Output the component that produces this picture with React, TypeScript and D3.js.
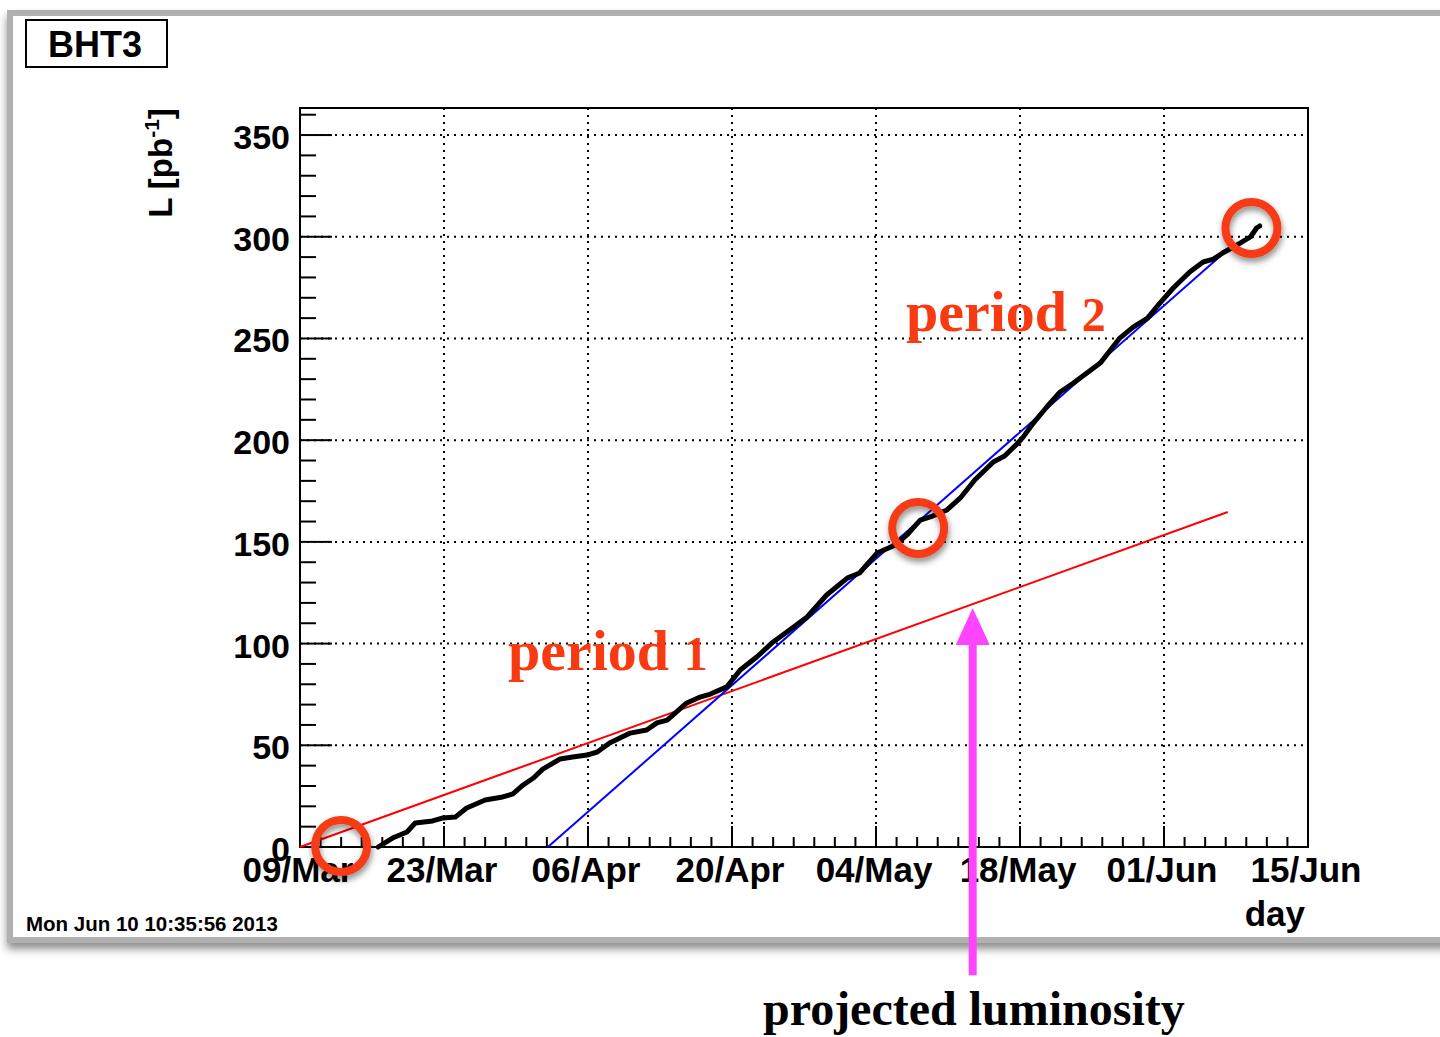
import React from 'react';
import * as d3 from 'd3';

// ---------- data ----------
const START_DATE = Date.UTC(2013, 2, 9); // 09/Mar/2013
const DAY_MS = 86400000;
const X_SPAN_DAYS = 98; // 09/Mar .. 15/Jun
const Y_MAX = 363.3;

const xMajorDays = [0, 14, 28, 42, 56, 70, 84, 98];
const yMajorValues = [0, 50, 100, 150, 200, 250, 300, 350];

// integrated luminosity (days since 09/Mar, pb^-1)
const lumiDays = [
  7.6, 9.0, 10.4, 11.2, 12.9, 13.9, 15.1, 16.2, 18.0, 19.7, 20.7, 21.7, 22.7, 23.6,
  25.3, 26.5, 27.9, 28.9, 30.1, 32.1, 33.7, 34.7, 35.7, 37.6, 38.9, 39.9, 41.5, 42.8,
  44.4, 46.0, 47.6, 49.3, 51.2, 53.2, 54.4, 56.1, 57.9, 59.0, 60.3, 61.5, 62.9, 64.2,
  65.6, 67.4, 68.5, 69.7, 70.3, 71.3, 72.6, 73.9, 75.2, 76.5, 77.8, 78.8, 79.7, 81.0,
  82.4, 83.6, 84.9, 86.5, 87.8, 88.8, 89.7, 91.4, 92.4, 93.0, 93.3,
];
const lumiValues = [
  0.0, 4.4, 7.4, 11.8, 12.8, 14.3, 14.7, 19.2, 23.1, 24.6, 26.1, 30.5, 33.9, 38.3,
  43.3, 44.2, 45.2, 46.7, 51.1, 56.0, 57.5, 61.0, 62.4, 70.8, 73.7, 75.2, 78.7, 87.0,
  93.4, 100.8, 106.7, 113.1, 123.9, 132.2, 134.7, 144.5, 148.5, 153.4, 160.7, 162.7, 165.7, 171.6,
  180.4, 189.3, 192.2, 198.1, 201.5, 208.4, 216.3, 223.7, 228.1, 233.0, 237.9, 244.3, 250.2, 255.6,
  260.0, 267.4, 274.8, 282.7, 287.6, 289.0, 292.0, 296.9, 299.9, 304.3, 305.3,
];

// linear fits / projections
const period1FitDays = [0, 90.2];
const period1FitValues = [0, 164.7];
const period2FitDays = [24.1, 89.6];
const period2FitValues = [0, 291.0];

// annotation circles
const markerDays = [4.0, 60.1, 92.5];
const markerValues = [0.5, 156.8, 304.3];

// arrow
const arrowDay = 65.4;
const arrowFromValue = -63;
const arrowToValue = 117.5;

// ---------- layout ----------
const W = 1440;
const H = 1037;
const PLOT = { left: 300, right: 1308, top: 108, bottom: 847 };
const SANS = '"Liberation Sans", Arial, Helvetica, sans-serif';
const SERIF = '"Liberation Serif", "Times New Roman", serif';
const ANNOT_RED = '#f73a12';

const dayToDate = (d: number) => new Date(START_DATE + d * DAY_MS);

export default function App() {
  const x = d3
    .scaleUtc()
    .domain([dayToDate(0), dayToDate(X_SPAN_DAYS)])
    .range([PLOT.left, PLOT.right]);
  const y = d3.scaleLinear().domain([0, Y_MAX]).range([PLOT.bottom, PLOT.top]);
  const fmt = d3.utcFormat('%d/%b');

  const xMinorDays = d3.range(0, X_SPAN_DAYS + 1, 2).filter((d) => d % 14 !== 0);
  const yMinor = d3.range(0, 361, 10).filter((v) => v % 50 !== 0);

  const line = d3
    .line<[number, number]>()
    .x((p) => x(dayToDate(p[0])))
    .y((p) => y(p[1]));

  const lumiPts: [number, number][] = lumiDays.map((d, i) => [d, lumiValues[i]]);
  const p1Pts: [number, number][] = period1FitDays.map((d, i) => [d, period1FitValues[i]]);
  const p2Pts: [number, number][] = period2FitDays.map((d, i) => [d, period2FitValues[i]]);

  const ax = x(dayToDate(arrowDay));
  const aTip = y(arrowToValue);
  const aBase = y(arrowFromValue);
  const headH = 37;
  const headW = 17;

  return (
    <svg
      width={W}
      height={H}
      viewBox={`0 0 ${W} ${H}`}
      style={{ position: 'absolute', left: 0, top: 0, display: 'block', background: '#fff' }}
    >
      <defs>
        <filter id="panelShadow" x="-5%" y="-5%" width="110%" height="115%">
          <feDropShadow dx="0" dy="6" stdDeviation="4" floodColor="#000" floodOpacity="0.45" />
        </filter>
        <filter id="ringShadow" x="-50%" y="-50%" width="200%" height="200%">
          <feDropShadow dx="1" dy="4" stdDeviation="3" floodColor="#000" floodOpacity="0.45" />
        </filter>
      </defs>

      {/* canvas panel */}
      <rect x={10} y={13} width={1445} height={927} fill="#fff" stroke="#b0b0b0" strokeWidth={6} filter="url(#panelShadow)" />

      {/* title box */}
      <rect x={26} y={20} width={141} height={47} fill="#fff" stroke="#000" strokeWidth={2} />
      <text x={95} y={57} textAnchor="middle" fontFamily={SANS} fontWeight="bold" fontSize={36}>
        BHT3
      </text>

      {/* grid */}
      <g stroke="#000" strokeWidth={2} strokeDasharray="2 5">
        {yMajorValues
          .filter((v) => v > 0)
          .map((v) => (
            <line key={'gy' + v} x1={PLOT.left} x2={PLOT.right} y1={y(v)} y2={y(v)} />
          ))}
        {xMajorDays
          .filter((d) => d > 0 && d < X_SPAN_DAYS)
          .map((d) => (
            <line key={'gx' + d} x1={x(dayToDate(d))} x2={x(dayToDate(d))} y1={PLOT.top} y2={PLOT.bottom} />
          ))}
      </g>

      {/* frame */}
      <rect
        x={PLOT.left}
        y={PLOT.top}
        width={PLOT.right - PLOT.left}
        height={PLOT.bottom - PLOT.top}
        fill="none"
        stroke="#000"
        strokeWidth={2}
      />

      {/* ticks */}
      <g stroke="#000" strokeWidth={2}>
        {yMajorValues.map((v) => (
          <line key={'ty' + v} x1={PLOT.left} x2={PLOT.left + 32} y1={y(v)} y2={y(v)} />
        ))}
        {yMinor.map((v) => (
          <line key={'tym' + v} x1={PLOT.left} x2={PLOT.left + 16} y1={y(v)} y2={y(v)} />
        ))}
        {xMajorDays.map((d) => (
          <line key={'tx' + d} x1={x(dayToDate(d))} x2={x(dayToDate(d))} y1={PLOT.bottom} y2={PLOT.bottom - 21} />
        ))}
        {xMinorDays.map((d) => (
          <line key={'txm' + d} x1={x(dayToDate(d))} x2={x(dayToDate(d))} y1={PLOT.bottom} y2={PLOT.bottom - 10} />
        ))}
      </g>

      {/* tick labels */}
      <g fontFamily={SANS} fontWeight="bold" fill="#000">
        {yMajorValues.map((v) => (
          <text key={'ly' + v} x={PLOT.left - 10} y={y(v) + 14} textAnchor="end" fontSize={34}>
            {v}
          </text>
        ))}
        {xMajorDays.map((d) => (
          <text key={'lx' + d} x={x(dayToDate(d)) - 2} y={882} textAnchor="middle" fontSize={35}>
            {fmt(dayToDate(d))}
          </text>
        ))}
      </g>

      {/* axis titles */}
      <text x={1305} y={926} textAnchor="end" fontFamily={SANS} fontWeight="bold" fontSize={35}>
        day
      </text>
      <text
        transform={`translate(172,163) rotate(-90)`}
        textAnchor="middle"
        fontFamily={SANS}
        fontWeight="bold"
        fontSize={33}
      >
        L [pb
        <tspan dy={-13} fontSize={21}>
          -1
        </tspan>
        <tspan dy={13}>]</tspan>
      </text>

      {/* timestamp */}
      <text x={26} y={931} fontFamily={SANS} fontWeight="bold" fontSize={20.5}>
        Mon Jun 10 10:35:56 2013
      </text>

      {/* fits */}
      <path d={line(p1Pts) || ''} fill="none" stroke="#ff0000" strokeWidth={2} />
      <path d={line(p2Pts) || ''} fill="none" stroke="#0000ff" strokeWidth={2} />

      {/* luminosity curve */}
      <path d={line(lumiPts) || ''} fill="none" stroke="#000" strokeWidth={5} strokeLinejoin="round" strokeLinecap="round" />

      {/* circles */}
      <g filter="url(#ringShadow)">
        {markerDays.map((d, i) => (
          <circle
            key={'c' + i}
            cx={x(dayToDate(d))}
            cy={y(markerValues[i])}
            r={26}
            fill="none"
            stroke={ANNOT_RED}
            strokeWidth={8}
          />
        ))}
      </g>

      {/* period labels */}
      <text x={508} y={670} fontFamily={SERIF} fontWeight="bold" fontSize={58} fill={ANNOT_RED}>
        period <tspan fontSize={48}>1</tspan>
      </text>
      <text x={906} y={331} fontFamily={SERIF} fontWeight="bold" fontSize={58} fill={ANNOT_RED}>
        period <tspan fontSize={48}>2</tspan>
      </text>

      {/* projection arrow */}
      <line x1={ax} x2={ax} y1={aBase} y2={aTip + headH - 2} stroke="#ff44ff" strokeWidth={8} />
      <path
        d={`M${ax},${aTip} L${ax + headW},${aTip + headH} L${ax - headW},${aTip + headH} Z`}
        fill="#ff44ff"
      />
      <text x={763} y={1025} fontFamily={SERIF} fontWeight="bold" fontSize={48}>
        projected luminosity
      </text>
    </svg>
  );
}
